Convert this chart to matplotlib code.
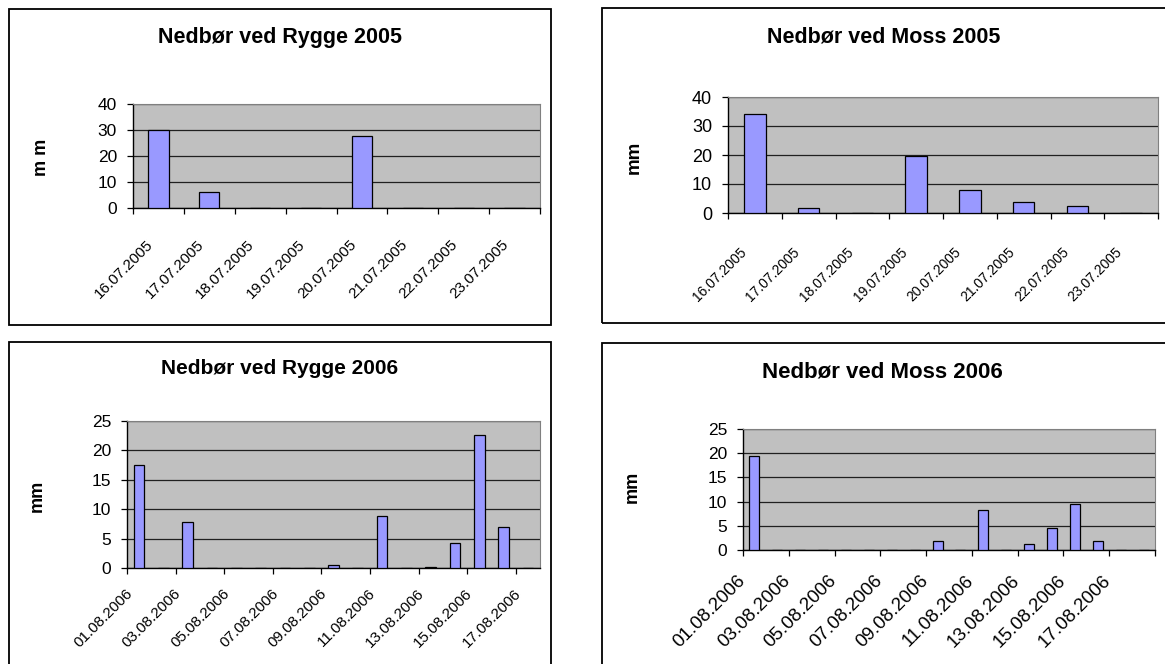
import numpy as np
import matplotlib
matplotlib.use("Agg")
import matplotlib.pyplot as plt
from matplotlib.patches import Rectangle
from matplotlib.transforms import ScaledTranslation

plt.rcParams['font.family'] = ['Liberation Sans', 'DejaVu Sans']

# Nedbør (mm) per dag, lest av figuren
dager_2005 = ['16.07.2005', '17.07.2005', '18.07.2005', '19.07.2005',
              '20.07.2005', '21.07.2005', '22.07.2005', '23.07.2005']
rygge_2005 = [30, 6, 0, 0, 27.6, 0, 0, 0]
moss_2005 = [34.2, 1.7, 0, 19.8, 7.8, 3.9, 2.5, 0]

dager_rygge_2006 = ['01.08.2006', '02.08.2006', '03.08.2006', '04.08.2006',
                    '05.08.2006', '06.08.2006', '07.08.2006', '08.08.2006',
                    '09.08.2006', '10.08.2006', '11.08.2006', '12.08.2006',
                    '13.08.2006', '14.08.2006', '15.08.2006', '16.08.2006',
                    '17.08.2006']
rygge_2006 = [17.6, 0, 7.9, 0, 0, 0, 0, 0, 0.5, 0, 8.8, 0, 0.15, 4.3, 22.6, 7.0, 0]

dager_moss_2006 = dager_rygge_2006 + ['18.08.2006']
moss_2006 = [19.5, 0, 0, 0, 0, 0, 0, 0, 1.9, 0, 8.3, 0, 1.3, 4.5, 9.6, 1.9, 0, 0]

W, H = 1165, 664
fig = plt.figure(figsize=(W / 100, H / 100), dpi=100)


def ramme(x0, y0, x1, y1):
    # svart ramme rundt hvert diagram (piksler fra øvre venstre hjørne)
    fig.add_artist(Rectangle((x0 / W, 1 - y1 / H), (x1 - x0) / W, (y1 - y0) / H,
                             transform=fig.transFigure, fill=False,
                             ec='black', lw=1.3))


def diagram(boks, dager, verdier, ymax, ystep, hver, bredde,
            xfont, xpad, dx, yfont):
    x0, y0, x1, y1 = boks
    ax = fig.add_axes([x0 / W, 1 - y1 / H, (x1 - x0) / W, (y1 - y0) / H])
    n = len(dager)
    x = np.arange(n)
    ax.set_facecolor('#C0C0C0')
    ax.bar(x, verdier, width=bredde, color='#9999FF', edgecolor='black',
           linewidth=0.9, zorder=3)
    ax.set_xlim(-0.5, n - 0.5)
    ax.set_ylim(0, ymax)
    ax.set_yticks(np.arange(0, ymax + 1, ystep))
    ax.yaxis.grid(True, color='#202020', lw=0.9)
    ax.set_axisbelow(True)

    # tick-streker mellom kategoriene, etiketter midt på kategoriene
    ax.set_xticks(np.arange(-0.5, n, hver))
    ax.set_xticklabels([])
    ax.set_xticks(x[::hver], [dager[i] for i in x[::hver]], minor=True)
    ax.tick_params(axis='x', which='major', direction='out', length=4,
                   width=0.9, color='black')
    ax.tick_params(axis='x', which='minor', length=0, pad=xpad,
                   labelsize=xfont, labelrotation=45)
    flytt = ScaledTranslation(dx / 100, 0, fig.dpi_scale_trans)
    for lab in ax.get_xticklabels(minor=True):
        lab.set_ha('right')
        lab.set_va('top')
        lab.set_transform(lab.get_transform() + flytt)
    ax.tick_params(axis='y', direction='out', length=4.5, width=0.9,
                   pad=7, labelsize=yfont)

    for s in ['top', 'right']:
        ax.spines[s].set_color('#808080')
    for s in ['left', 'bottom']:
        ax.spines[s].set_color('black')
        ax.spines[s].set_linewidth(1.0)
    return ax


# Rygge 2005
ramme(9, 9, 551, 325)
diagram((133, 104, 540, 208), dager_2005, rygge_2005, 40, 10, 1, 0.4,
        11, 21, -3, 12.5)
fig.text(280 / W, 1 - 38 / H, 'Nedbør ved Rygge 2005', ha='center',
         va='center', fontsize=15.5, fontweight='bold')
fig.text(41 / W, 1 - 157 / H, 'm m', ha='center', va='center',
         rotation=90, fontsize=13, fontweight='bold')

# Moss 2005
ramme(602, 8, 1175, 323)
diagram((728, 97, 1158, 213), dager_2005, moss_2005, 40, 10, 1, 0.4,
        10, 23, -6, 13)
fig.text(884 / W, 1 - 37 / H, 'Nedbør ved Moss 2005', ha='center',
         va='center', fontsize=15.5, fontweight='bold')
fig.text(634 / W, 1 - 157 / H, 'mm', ha='center', va='center',
         rotation=90, fontsize=13.5, fontweight='bold')

# Rygge 2006
ramme(9, 342, 551, 675)
diagram((127, 421, 540, 568), dager_rygge_2006, rygge_2006, 25, 5, 2, 0.44,
        11, 13, -4, 12.5)
fig.text(280 / W, 1 - 368 / H, 'Nedbør ved Rygge 2006', ha='center',
         va='center', fontsize=15, fontweight='bold')
fig.text(37 / W, 1 - 496 / H, 'mm', ha='center', va='center',
         rotation=90, fontsize=13, fontweight='bold')

# Moss 2006
ramme(602, 343, 1175, 675)
diagram((743, 429, 1155, 550), dager_moss_2006, moss_2006, 25, 5, 2, 0.44,
        13.5, 16, -6, 12.5)
fig.text(882 / W, 1 - 372 / H, 'Nedbør ved Moss 2006', ha='center',
         va='center', fontsize=16, fontweight='bold')
fig.text(632 / W, 1 - 487 / H, 'mm', ha='center', va='center',
         rotation=90, fontsize=13, fontweight='bold')

fig.savefig('out.png', dpi=100)
